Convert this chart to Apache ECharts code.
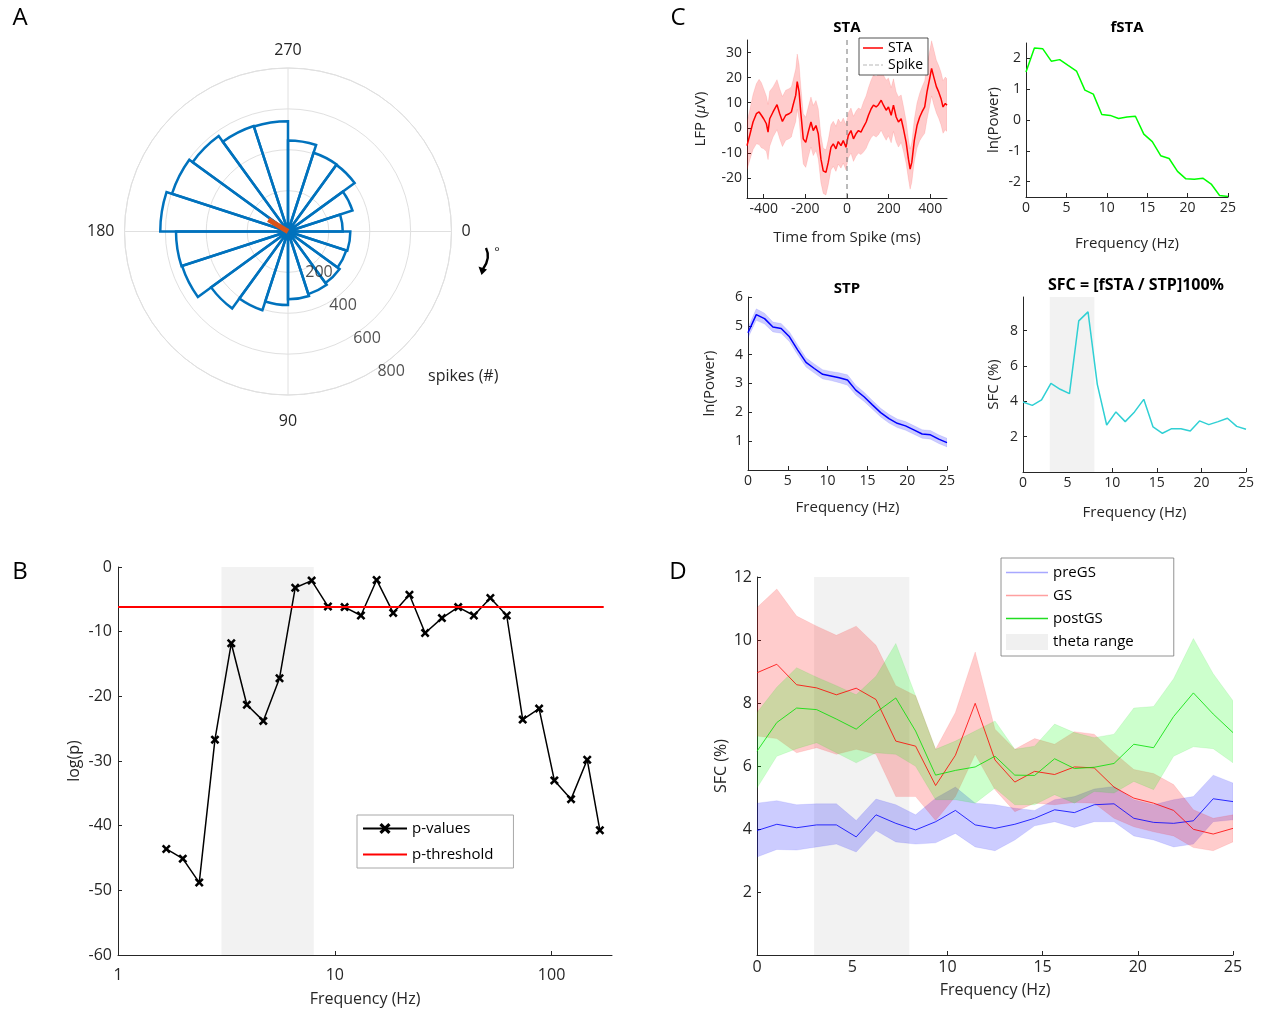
<!DOCTYPE html>
<html><head><meta charset="utf-8">
<script src="https://cdn.jsdelivr.net/npm/echarts/dist/echarts.min.js"></script>
<style>html,body{margin:0;padding:0;background:#fff}#c{width:1265px;height:1012px}</style>
</head><body><div id="c"></div>
<script>
// ---------- Panel A: polar histogram ----------
const aBins = ['0','18','36','54','72','90','108','126','144','162','180','198','216','234','252','270','288','306','324','342'];
const aCounts = [305,300,312,322,332,360,405,465,545,548,625,597,577,543,540,445,405,403,332,268];
const aRings = [200,400,600,800];
const aVecAngle = 211;
const aVecLen = 112;
// ---------- Panel B: p-values ----------
const bFreq = [1.67,1.99,2.37,2.80,3.33,3.93,4.68,5.56,6.57,7.82,9.3,11.1,13.2,15.6,18.6,22.1,26.1,31.2,37.1,43.8,52.2,62.1,73.6,87.6,103,123,146,167];
const bLogP = [-43.6,-45.1,-48.8,-26.7,-11.8,-21.3,-23.8,-17.2,-3.2,-2.1,-6.1,-6.2,-7.5,-2.0,-7.1,-4.3,-10.2,-7.9,-6.2,-7.5,-4.8,-7.5,-23.6,-21.9,-33.0,-35.9,-29.8,-40.7];
const bThreshX = [1, 174];
const bThresh = -6.2;
const thetaRange = [3, 8];
// ---------- Panel C: STA ----------
const staT = [-480,-467,-451,-435,-422,-411,-400,-387,-379,-371,-355,-336,-323,-310,-294,-278,-267,-259,-246,-239,-230,-222,-210,-198,-186,-173,-162,-149,-138,-125,-114,-101,-90,-77,-66,-53,-42,-29,-18,-5,6,19,31,43,55,67,79,92,103,116,127,140,151,164,175,188,199,212,223,236,247,260,271,284,295,303,311,323,336,349,360,373,384,397,406,416,429,440,451,461,472,480];
const staMean = [-7.1,-3,2.3,5.6,6.3,5,3.6,1.6,-1.7,3.6,6.3,9.2,5.6,2.5,5,5.6,6.3,9,13,18.4,14.3,6.3,-4.4,-5.8,-1.7,2.3,-1.1,0.9,-2.4,-12.5,-17.2,-17.8,-13.8,-7.8,-6.4,-8.4,-5.5,-7.1,-5.1,-7.8,-3.1,-1.1,-4.4,-2.4,-1.1,-1.7,0.3,2.3,5,7.6,9,8.3,9.2,11,9,7,8.3,5,9,4.3,2.3,3.6,-0.4,-5.8,-12.5,-16.5,-13.8,-5.1,0.9,4.3,6.3,8.3,14.3,19.7,23.7,20.4,16.4,14.3,11.7,8.3,9.7,9];
const staSem = [9.5,10,11,12,13,13,12,11,11,11,10,10,10,10,10,10,10,10,10.5,11,11,10.5,10,10,10,10,10,10,10,9.5,9,9,9,9,9,9,9,9,9,9,9,9,9,9,9,9,10,10.5,11,11.5,12,12,12,12,12,12,11.5,11,10.5,10,10,9.5,9,8.5,8,8,8,8.5,9,9.5,10,10.5,11,11,11,11,10.5,10.5,10.5,10.5,10.5,10.5];
const freqs = [0,1.04,2.08,3.13,4.17,5.21,6.25,7.29,8.33,9.38,10.42,11.46,12.5,13.54,14.58,15.63,16.67,17.71,18.75,19.79,20.83,21.88,22.92,23.96,25];
const fsta = [1.56,2.34,2.31,1.91,1.96,1.77,1.59,0.97,0.84,0.18,0.15,0.05,0.10,0.12,-0.46,-0.70,-1.16,-1.25,-1.67,-1.91,-1.92,-1.89,-2.08,-2.45,-2.48];
const stp = [4.76,5.39,5.25,4.96,4.91,4.62,4.16,3.73,3.52,3.32,3.26,3.20,3.12,2.77,2.54,2.26,1.99,1.78,1.62,1.53,1.39,1.25,1.22,1.07,0.95];
const stpSem = [0.18,0.2,0.19,0.17,0.17,0.17,0.17,0.16,0.16,0.16,0.16,0.17,0.18,0.17,0.16,0.15,0.15,0.15,0.15,0.15,0.15,0.15,0.15,0.15,0.15];
const sfc = [3.96,3.77,4.08,5.02,4.68,4.43,8.55,9.06,4.96,2.66,3.40,2.85,3.40,4.11,2.55,2.19,2.45,2.45,2.32,2.89,2.68,2.85,3.04,2.58,2.42];
// ---------- Panel D ----------
const preMean = [3.95,4.15,4.04,4.13,4.13,3.75,4.45,4.18,3.97,4.23,4.59,4.13,4.02,4.15,4.34,4.61,4.52,4.77,4.80,4.34,4.21,4.18,4.26,4.96,4.87];
const preHi = [4.82,4.90,4.77,4.80,4.80,4.27,4.95,4.77,4.45,4.98,5.33,4.82,4.77,4.66,4.59,4.93,5.03,5.27,5.35,4.93,4.77,4.93,5.03,5.71,5.46];
const preLo = [3.11,3.35,3.33,3.43,3.52,3.27,3.95,3.59,3.52,3.56,3.86,3.43,3.31,3.65,4.10,4.23,4.05,4.23,4.23,3.78,3.65,3.43,3.52,4.23,4.29];
const gsMean = [8.96,9.23,8.58,8.48,8.26,8.47,8.11,6.79,6.63,5.38,6.34,7.99,6.19,5.49,5.83,5.73,5.97,5.94,5.33,4.98,4.82,4.59,3.99,3.84,4.02];
const gsHi = [11.03,11.62,10.76,10.44,10.15,10.44,9.83,8.55,8.23,6.53,7.70,9.62,7.17,6.53,6.87,6.69,7.09,7.01,6.42,5.89,5.76,5.41,4.61,4.34,4.45];
const gsLo = [6.95,6.87,6.42,6.58,6.37,6.53,6.37,5.03,5.03,4.27,5.03,6.37,5.25,4.55,4.82,4.77,4.84,4.82,4.34,4.07,3.91,3.78,3.41,3.31,3.59];
const postMean = [6.47,7.38,7.84,7.79,7.49,7.17,7.70,8.16,7.11,5.71,5.86,5.97,6.31,5.71,5.70,6.23,5.92,5.96,6.08,6.69,6.58,7.57,8.32,7.65,7.06];
const postHi = [7.70,8.50,9.12,8.82,8.55,8.26,8.85,9.89,8.23,6.53,6.79,7.11,7.43,6.53,6.63,7.33,7.06,6.90,7.01,7.84,7.89,8.77,10.05,8.93,8.07];
const postLo = [5.30,6.31,6.55,6.74,6.42,6.10,6.42,6.37,5.99,4.93,4.93,4.82,5.30,4.77,4.77,5.09,4.82,5.19,5.14,5.51,5.25,6.31,6.61,6.55,6.10];

const FONT = 'Open Sans';
const TXT = '#262626';
function merge(a, b) {
  const o = Object.assign({}, a);
  for (const k in b) {
    if (b[k] && typeof b[k] === 'object' && !Array.isArray(b[k]) && a[k] && typeof a[k] === 'object' && !Array.isArray(a[k])) o[k] = merge(a[k], b[k]);
    else o[k] = b[k];
  }
  return o;
}
function ax(tickSize, nameSize, extra) {
  return merge({
    type: 'value',
    axisLine: {show: true, onZero: false, lineStyle: {color: TXT, width: 1}},
    axisTick: {show: true, inside: true, length: 4, lineStyle: {color: TXT, width: 1}},
    axisLabel: {color: TXT, fontFamily: FONT, fontSize: tickSize, margin: 5},
    splitLine: {show: false},
    nameLocation: 'middle',
    nameTextStyle: {color: TXT, fontFamily: FONT, fontSize: nameSize}
  }, extra);
}
const zip = (xs, ys) => xs.map((x, i) => [x, ys[i]]);

function band(xi, yi, xs, lo, hi, fill, stroke, z) {
  return {
    type: 'custom', xAxisIndex: xi, yAxisIndex: yi, z: z || 2, silent: true, clip: true,
    data: [[xs[0], lo[0]]],
    renderItem: function (p, api) {
      const pts = [];
      for (let i = 0; i < xs.length; i++) pts.push(api.coord([xs[i], hi[i]]));
      for (let i = xs.length - 1; i >= 0; i--) pts.push(api.coord([xs[i], lo[i]]));
      return {type: 'polygon', shape: {points: pts}, style: {fill: fill, stroke: stroke, lineWidth: 0.6}};
    }
  };
}
function thetaBand(xi, yi, name, y0) {
  return {
    type: 'line', name: name, xAxisIndex: xi, yAxisIndex: yi, z: 1, symbol: 'none', silent: true,
    itemStyle: {color: '#f0f0f0'}, lineStyle: {color: '#f0f0f0'},
    data: [[thetaRange[0], y0]],
    markArea: {silent: true, itemStyle: {color: '#f2f2f2'}, data: [[{xAxis: thetaRange[0]}, {xAxis: thetaRange[1]}]]}
  };
}
const staLo = staMean.map((v, i) => v - staSem[i]);
const staHi = staMean.map((v, i) => v + staSem[i]);
const stpLo = stp.map((v, i) => v - stpSem[i]);
const stpHi = stp.map((v, i) => v + stpSem[i]);

const xPath = 'path://M0,2L2,0L5,3L8,0L10,2L7,5L10,8L8,10L5,7L2,10L0,8L3,5Z';
const lineIcon = w => 'path://M0,0H' + w + 'V1.5H0Z';
const dashIcon = 'path://M0,0H4V1.2H0Z M6,0H10V1.2H6Z M12,0H16V1.2H12Z M18,0H20V1.2H18Z';

const option = {
  animation: false,
  backgroundColor: '#fff',
  textStyle: {fontFamily: FONT},
  grid: [
    {left: 118, top: 567, width: 494, height: 388, outerBoundsMode: 'none'},
    {left: 747, top: 40, width: 200, height: 158, outerBoundsMode: 'none'},
    {left: 1026, top: 43, width: 202, height: 154, outerBoundsMode: 'none'},
    {left: 748, top: 297, width: 199, height: 173, outerBoundsMode: 'none'},
    {left: 1023, top: 297, width: 223, height: 175, outerBoundsMode: 'none'},
    {left: 757, top: 577, width: 476, height: 378, outerBoundsMode: 'none'}
  ],
  xAxis: [
    ax(16, 16, {gridIndex: 0, type: 'log', logBase: 10, min: 1, max: 190, name: 'Frequency (Hz)', nameGap: 36, axisLabel: {margin: 12, showMaxLabel: false}}),
    ax(14, 15, {gridIndex: 1, min: -480, max: 480, name: 'Time from Spike (ms)', nameGap: 32, axisLabel: {margin: 4, showMinLabel: false, showMaxLabel: false}}),
    ax(14, 15, {gridIndex: 2, min: 0, max: 25, interval: 5, name: 'Frequency (Hz)', nameGap: 39, axisLabel: {margin: 4}}),
    ax(14, 15, {gridIndex: 3, min: 0, max: 25, interval: 5, name: 'Frequency (Hz)', nameGap: 30, axisLabel: {margin: 4}}),
    ax(14, 15, {gridIndex: 4, min: 0, max: 25, interval: 5, name: 'Frequency (Hz)', nameGap: 33, axisLabel: {margin: 4}}),
    ax(16, 16, {gridIndex: 5, min: 0, max: 25, interval: 5, name: 'Frequency (Hz)', nameGap: 27, axisLabel: {margin: 4}})
  ],
  yAxis: [
    ax(16, 16, {gridIndex: 0, min: -60, max: 0, interval: 10, name: 'log(p)', nameGap: 36, axisLabel: {margin: 6}}),
    ax(14, 15, {gridIndex: 1, min: -28, max: 35, name: 'LFP ({i|μ}V)', nameGap: 39, axisLabel: {showMinLabel: false, showMaxLabel: false},
      nameTextStyle: {rich: {i: {fontStyle: 'italic', fontFamily: FONT, fontSize: 15, color: TXT}}}}),
    ax(14, 15, {gridIndex: 2, min: -2.5, max: 2.5, name: 'ln(Power)', nameGap: 25, axisLabel: {showMinLabel: false, showMaxLabel: false}}),
    ax(14, 15, {gridIndex: 3, min: 0, max: 6, interval: 1, name: 'ln(Power)', nameGap: 31, axisLabel: {showMinLabel: false}}),
    ax(14, 15, {gridIndex: 4, min: 0, max: 9.9, interval: 2, name: 'SFC (%)', nameGap: 22, axisLabel: {showMinLabel: false, showMaxLabel: false}}),
    ax(16, 16, {gridIndex: 5, min: 0, max: 12, interval: 2, name: 'SFC (%)', nameGap: 28, axisLabel: {showMinLabel: false}})
  ],
  polar: [
    {center: [288, 231.5], radius: 163.5},
    {center: [288, 231.5], radius: 163.5}
  ],
  angleAxis: [
    {polarIndex: 0, type: 'value', min: 0, max: 360, interval: 90, startAngle: 0, clockwise: true,
      axisLine: {show: true, lineStyle: {color: '#e0e0e0', width: 1}},
      axisTick: {show: false},
      axisLabel: {show: true, margin: 10, color: TXT, fontFamily: FONT, fontSize: 16,
        formatter: v => (v === 360 ? '' : (v === 90 ? '{b|90}' : String(v))),
        rich: {b: {padding: [8, 0, 0, 0], color: TXT, fontFamily: FONT, fontSize: 16}}},
      splitLine: {show: true, lineStyle: {color: '#e0e0e0', width: 1}}},
    {polarIndex: 1, type: 'category', data: aBins, startAngle: 0, clockwise: true, boundaryGap: true,
      axisLine: {show: false}, axisTick: {show: false}, axisLabel: {show: false}, splitLine: {show: false}}
  ],
  radiusAxis: [
    {polarIndex: 0, type: 'value', min: 0, max: 800, interval: 200,
      axisLine: {show: false}, axisTick: {show: false}, axisLabel: {show: false},
      splitLine: {show: true, lineStyle: {color: '#e0e0e0', width: 1}}},
    {polarIndex: 1, type: 'value', min: 0, max: 800,
      axisLine: {show: false}, axisTick: {show: false}, axisLabel: {show: false}, splitLine: {show: false}}
  ],
  legend: [
    {left: 357, top: 815, orient: 'vertical', selectedMode: false, padding: [6, 20, 6, 5], itemWidth: 44, itemHeight: 14, itemGap: 11,
      borderColor: '#a8a8a8', borderWidth: 1, backgroundColor: '#fff',
      textStyle: {fontFamily: FONT, fontSize: 15, color: '#000'},
      data: ['p-values', {name: 'p-threshold', icon: 'path://M0,0H44V2H0Z'}]},
    {left: 859, top: 38, orient: 'vertical', selectedMode: false, padding: [3, 5, 3, 4], itemWidth: 20, itemHeight: 14, itemGap: 3,
      borderColor: '#262626', borderWidth: 0.8, backgroundColor: '#fff',
      textStyle: {fontFamily: FONT, fontSize: 14, color: '#000'},
      data: [{name: 'STA', icon: lineIcon(20)}, {name: 'Spike', icon: dashIcon, itemStyle: {color: '#b8b8b8'}}]},
    {left: 1001, top: 558, orient: 'vertical', selectedMode: false, padding: [7, 40, 6, 5], itemWidth: 42, itemHeight: 16, itemGap: 8,
      borderColor: '#777', borderWidth: 0.8, backgroundColor: '#fff',
      textStyle: {fontFamily: FONT, fontSize: 15, color: '#000'},
      data: [
        {name: 'preGS', icon: 'path://M0,0H42V1.4H0Z', itemStyle: {color: '#a8a8ff'}},
        {name: 'GS', icon: 'path://M0,0H42V1.4H0Z', itemStyle: {color: '#ffa0a0'}},
        {name: 'postGS', icon: 'path://M0,0H42V1.6H0Z', itemStyle: {color: '#22dd22'}},
        {name: 'theta range', icon: 'rect', itemStyle: {color: '#f0f0f0'}}
      ]}
  ],
  series: [
    // B
    thetaBand(0, 0, 'thetaB', -30),
    {type: 'line', name: 'p-values', xAxisIndex: 0, yAxisIndex: 0, z: 3, data: zip(bFreq, bLogP),
      symbol: xPath, symbolSize: 9, showSymbol: true, itemStyle: {color: '#000'}, lineStyle: {color: '#000', width: 1.5}, silent: true},
    {type: 'line', name: 'p-threshold', xAxisIndex: 0, yAxisIndex: 0, z: 4, data: bThreshX.map(x => [x, bThresh]),
      symbol: 'none', itemStyle: {color: '#ff0000'}, lineStyle: {color: '#ff0000', width: 2}, silent: true},
    // STA
    band(1, 1, staT, staLo, staHi, 'rgba(255,0,0,0.2)', 'rgba(255,0,0,0.18)', 2),
    {type: 'line', name: 'STA', xAxisIndex: 1, yAxisIndex: 1, z: 3, data: zip(staT, staMean), symbol: 'none',
      itemStyle: {color: '#ff0000'}, lineStyle: {color: '#ff0000', width: 1.5}, silent: true},
    {type: 'line', name: 'Spike', xAxisIndex: 1, yAxisIndex: 1, z: 4, data: [[0, -28], [0, 35]], symbol: 'none',
      itemStyle: {color: '#777'}, lineStyle: {color: '#777', width: 1, type: [5, 4]}, silent: true},
    // fSTA
    {type: 'line', name: 'fSTA', xAxisIndex: 2, yAxisIndex: 2, z: 3, data: zip(freqs, fsta), symbol: 'none',
      itemStyle: {color: '#00ff00'}, lineStyle: {color: '#00ff00', width: 1.5}, silent: true},
    // STP
    band(3, 3, freqs, stpLo, stpHi, 'rgba(0,0,255,0.2)', 'rgba(0,0,255,0.15)', 2),
    {type: 'line', name: 'STP', xAxisIndex: 3, yAxisIndex: 3, z: 3, data: zip(freqs, stp), symbol: 'none',
      itemStyle: {color: '#0000ff'}, lineStyle: {color: '#0000ff', width: 1.5}, silent: true},
    // SFC
    thetaBand(4, 4, 'thetaSFC', 5),
    {type: 'line', name: 'SFC', xAxisIndex: 4, yAxisIndex: 4, z: 3, data: zip(freqs, sfc), symbol: 'none',
      itemStyle: {color: '#30d0d4'}, lineStyle: {color: '#30d0d4', width: 1.5}, silent: true},
    // D
    thetaBand(5, 5, 'theta range', 6),
    band(5, 5, freqs, preLo, preHi, 'rgba(0,0,255,0.2)', 'rgba(0,0,255,0.15)', 2),
    band(5, 5, freqs, gsLo, gsHi, 'rgba(255,0,0,0.2)', 'rgba(255,0,0,0.15)', 2),
    band(5, 5, freqs, postLo, postHi, 'rgba(0,255,0,0.2)', 'rgba(0,200,0,0.15)', 2),
    {type: 'line', name: 'preGS', xAxisIndex: 5, yAxisIndex: 5, z: 3, data: zip(freqs, preMean), symbol: 'none',
      itemStyle: {color: '#0000ff'}, lineStyle: {color: '#0000ff', width: 0.8}, silent: true},
    {type: 'line', name: 'GS', xAxisIndex: 5, yAxisIndex: 5, z: 3, data: zip(freqs, gsMean), symbol: 'none',
      itemStyle: {color: '#ff0000'}, lineStyle: {color: '#ff0000', width: 0.8}, silent: true},
    {type: 'line', name: 'postGS', xAxisIndex: 5, yAxisIndex: 5, z: 3, data: zip(freqs, postMean), symbol: 'none',
      itemStyle: {color: '#00ff00'}, lineStyle: {color: '#00e000', width: 0.8}, silent: true},
    // A
    {type: 'bar', coordinateSystem: 'polar', polarIndex: 1, data: aCounts, barCategoryGap: '0%', barGap: '0%', z: 3, silent: true,
      itemStyle: {color: 'rgba(0,0,0,0)', borderColor: '#0072BD', borderWidth: 2.5}},
    {type: 'line', coordinateSystem: 'polar', polarIndex: 0, data: [[0, aVecAngle], [aVecLen, aVecAngle]], symbol: 'none', z: 5, silent: true,
      lineStyle: {color: '#D95319', width: 5}},
    {type: 'scatter', coordinateSystem: 'polar', polarIndex: 0, data: aRings.map(r => [r, 54]), symbolSize: 0, z: 6, silent: true,
      label: {show: true, position: 'inside', offset: [7, 8], formatter: p => String(p.value[0]), color: TXT, fontFamily: FONT, fontSize: 16}}
  ],
  graphic: [
    {type: 'text', x: 20, y: 18, style: {text: 'A', fontSize: 24, fontFamily: FONT, fill: '#000', align: 'center', verticalAlign: 'middle'}},
    {type: 'text', x: 20, y: 572, style: {text: 'B', fontSize: 24, fontFamily: FONT, fill: '#000', align: 'center', verticalAlign: 'middle'}},
    {type: 'text', x: 678, y: 18, style: {text: 'C', fontSize: 24, fontFamily: FONT, fill: '#000', align: 'center', verticalAlign: 'middle'}},
    {type: 'text', x: 678, y: 572, style: {text: 'D', fontSize: 24, fontFamily: FONT, fill: '#000', align: 'center', verticalAlign: 'middle'}},
    {type: 'text', x: 847, y: 28, style: {text: 'STA', fontSize: 15, fontWeight: 'bold', fontFamily: FONT, fill: '#000', align: 'center', verticalAlign: 'middle'}},
    {type: 'text', x: 1127, y: 28, style: {text: 'fSTA', fontSize: 15, fontWeight: 'bold', fontFamily: FONT, fill: '#000', align: 'center', verticalAlign: 'middle'}},
    {type: 'text', x: 847, y: 289, style: {text: 'STP', fontSize: 15, fontWeight: 'bold', fontFamily: FONT, fill: '#000', align: 'center', verticalAlign: 'middle'}},
    {type: 'text', x: 1136, y: 285, style: {text: 'SFC = [fSTA / STP]100%', fontSize: 16, fontWeight: 'bold', fontFamily: FONT, fill: '#000', align: 'center', verticalAlign: 'middle'}},
    {type: 'text', x: 428, y: 376, style: {text: 'spikes (#)', fontSize: 16, fontFamily: FONT, fill: TXT, align: 'left', verticalAlign: 'middle'}},
    {type: 'text', x: 497, y: 252, style: {text: '°', fontSize: 13, fontFamily: FONT, fill: TXT, align: 'center', verticalAlign: 'middle'}},
    {type: 'bezierCurve', shape: {x1: 486, y1: 248, x2: 483, y2: 269, cpx1: 491, cpy1: 258}, style: {stroke: '#000', lineWidth: 2.4, fill: null}},
    {type: 'polygon', shape: {points: [[478.5, 266.5], [487, 269.5], [481.5, 275]]}, style: {fill: '#000'}}
  ]
};
const chart = echarts.init(document.getElementById('c'), null, {renderer: 'canvas'});
chart.setOption(option);
</script></body></html>
